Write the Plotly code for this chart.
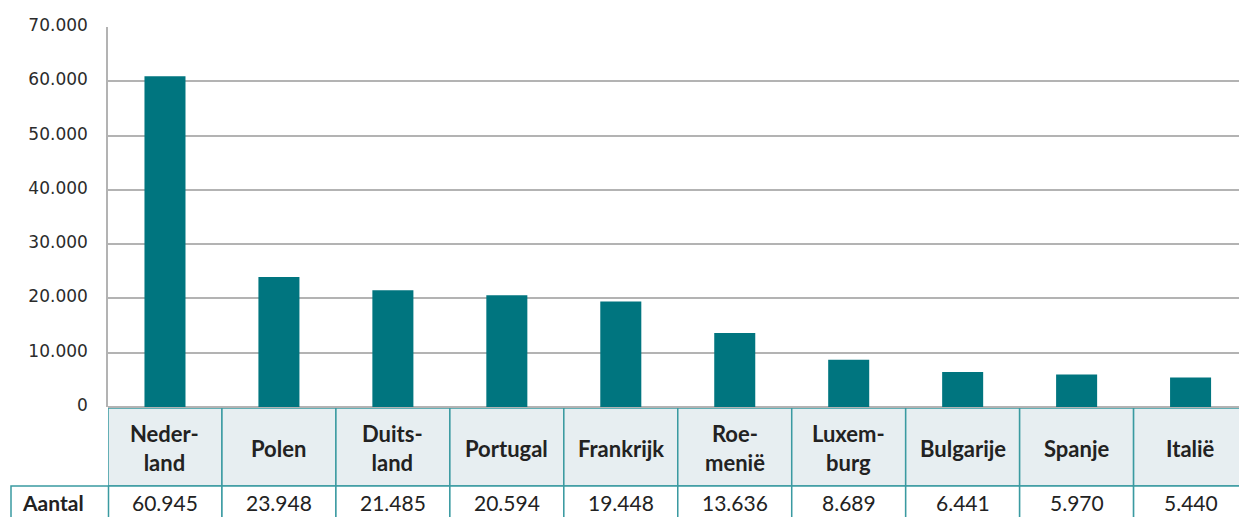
import plotly.graph_objects as go

countries = ["Nederland", "Polen", "Duitsland", "Portugal", "Frankrijk",
             "Roemenië", "Luxemburg", "Bulgarije", "Spanje", "Italië"]
header_labels = ["Neder-<br>land", "Polen", "Duits-<br>land", "Portugal", "Frankrijk",
                 "Roe-<br>menië", "Luxem-<br>burg", "Bulgarije", "Spanje", "Italië"]
aantal = [60945, 23948, 21485, 20594, 19448, 13636, 8689, 6441, 5970, 5440]
row_label = "Aantal"
y_ticks = [0, 10000, 20000, 30000, 40000, 50000, 60000, 70000]

BAR = "#00757f"
BORDER = "#3a9aa1"
HEADER_FILL = "#e7eef1"
GRID = "#b3b3b3"
TXT = "#222222"

W, H = 1239, 517
L, R, T, B = 108, 0, 27, 110
PH = H - T - B

def py(pix):
    """pixel row -> paper y"""
    return (H - B - pix) / PH

def px(pix):
    return (pix - L) / (W - L - R)

fig = go.Figure()
fig.add_trace(go.Bar(
    x=list(range(len(countries))), y=aantal, width=0.36,
    marker=dict(color=BAR, line=dict(width=0)),
    hovertext=countries, hoverinfo="text+y",
))

shapes = []
annotations = []
hdr_top, hdr_bot, row_bot = py(408), py(486), py(530)
for i, (lab, val) in enumerate(zip(header_labels, aantal)):
    shapes.append(dict(type="rect", xref="x", yref="paper",
                       x0=i - 0.5, x1=i + 0.5, y0=hdr_bot, y1=hdr_top,
                       fillcolor=HEADER_FILL, line=dict(color=BORDER, width=1.5),
                       layer="below"))
    shapes.append(dict(type="rect", xref="x", yref="paper",
                       x0=i - 0.5, x1=i + 0.5, y0=row_bot, y1=hdr_bot,
                       fillcolor="white", line=dict(color=BORDER, width=1.5),
                       layer="below"))
    annotations.append(dict(x=i, y=py(448), xref="x", yref="paper",
                            text="<b>" + lab + "</b>", showarrow=False,
                            xanchor="center", yanchor="middle",
                            font=dict(family="Lato", size=22, color=TXT)))
    annotations.append(dict(x=i, y=py(503), xref="x", yref="paper",
                            text=f"{val:,}".replace(",", "."), showarrow=False,
                            xanchor="center", yanchor="middle",
                            font=dict(family="Lato", size=21, color=TXT)))

shapes.append(dict(type="rect", xref="paper", yref="paper",
                   x0=px(11), x1=px(108.5), y0=row_bot, y1=hdr_bot,
                   fillcolor="white", line=dict(color=BORDER, width=1.5),
                   layer="below"))
annotations.append(dict(x=px(20), y=py(503), xref="paper", yref="paper",
                        text="<b>" + row_label + "</b>", showarrow=False,
                        xanchor="left", yanchor="middle",
                        font=dict(family="Lato", size=21, color=TXT)))

fig.update_layout(
    width=W, height=H,
    margin=dict(l=L, r=R, t=T, b=B, pad=0),
    paper_bgcolor="white", plot_bgcolor="white",
    separators=",.",
    showlegend=False,
    bargap=0.64,
    shapes=shapes,
    annotations=annotations,
    xaxis=dict(range=[-0.5, 9.425], showticklabels=False, showgrid=False,
               zeroline=False, showline=False, ticks="", fixedrange=True),
    yaxis=dict(range=[0, 70000], tickvals=y_ticks, tickformat=",d",
               showgrid=True, gridcolor=GRID, gridwidth=1.5,
               zeroline=True, zerolinecolor=GRID, zerolinewidth=2,
               showline=True, linecolor=GRID, linewidth=1.5,
               ticks="", ticklabelstandoff=15, ticklabelshift=-2,
               tickfont=dict(family="DejaVu Sans", size=17, color="#2b2b2b")),
)

fig.write_html("out.html", config={"displayModeBar": False},
               post_script="document.body.style.margin='0';document.body.style.padding='0';")
